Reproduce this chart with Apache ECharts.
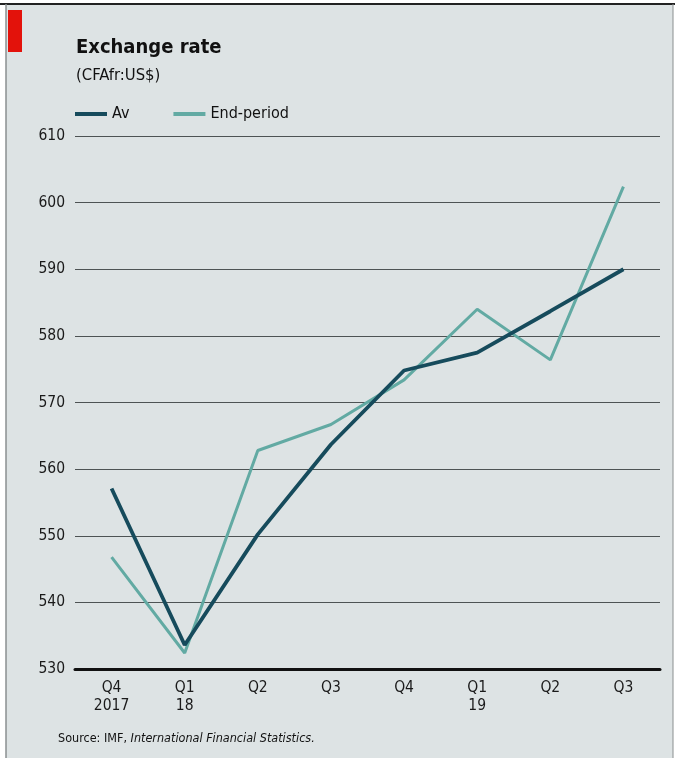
<!DOCTYPE html>
<html>
<head>
<meta charset="utf-8">
<script src="https://cdn.jsdelivr.net/npm/echarts@6/dist/echarts.min.js"></script>
<style>
  html, body { margin: 0; padding: 0; background: #ffffff; }
  #chart { width: 675px; height: 758px; }
</style>
</head>
<body>
<div id="chart"></div>
<script>
// Quarterly CFA franc per US dollar
const quarters = ['Q4\n2017', 'Q1\n18', 'Q2', 'Q3', 'Q4', 'Q1\n19', 'Q2', 'Q3'];
const averageRate = [557.1, 533.6, 550.2, 563.7, 574.8, 577.5, 583.7, 590.0];
const endPeriodRate = [546.8, 532.4, 562.8, 566.7, 573.4, 584.0, 576.4, 602.4];
const yTicks = { min: 530, max: 610, step: 10 };

const FONT = '"Liberation Sans Narrow", "DejaVu Sans Condensed", "Liberation Sans", sans-serif';
const AV_COLOR = '#164b5c';
const END_COLOR = '#62aaa3';

const chart = echarts.init(document.getElementById('chart'), null, { renderer: 'canvas' });

chart.setOption({
  backgroundColor: '#ffffff',
  animation: false,
  textStyle: { fontFamily: FONT },
  graphic: [
    // panel background with frame
    { type: 'rect', z: -10, shape: { x: 6, y: 4, width: 667, height: 760 },
      style: { fill: '#dde3e4', stroke: null } },
    { type: 'line', z: 5, shape: { x1: 0, y1: 4, x2: 675, y2: 4 },
      style: { stroke: '#222', lineWidth: 2 } },
    { type: 'line', z: 5, shape: { x1: 6, y1: 4, x2: 6, y2: 758 },
      style: { stroke: '#8a8f90', lineWidth: 1.5 } },
    { type: 'line', z: 5, shape: { x1: 673, y1: 4, x2: 673, y2: 758 },
      style: { stroke: '#8a8f90', lineWidth: 1 } },
    // red tab
    { type: 'rect', shape: { x: 8, y: 10, width: 14, height: 42 },
      style: { fill: '#e3120b' } },
    // source note
    { type: 'text', left: 58, top: 732,
      style: {
        text: '{n|Source: IMF, }{i|International Financial Statistics.}',
        rich: {
          n: { fontFamily: FONT, fontSize: 12.5, fill: '#111' },
          i: { fontFamily: FONT, fontSize: 12.5, fontStyle: 'italic', fill: '#111' }
        }
      } }
  ],
  title: {
    text: 'Exchange rate',
    subtext: '(CFAfr:US$)',
    left: 71,
    top: 33,
    itemGap: 9,
    textStyle: { fontFamily: FONT, fontSize: 20, fontWeight: 'bold', color: '#111' },
    subtextStyle: { fontFamily: FONT, fontSize: 16.5, color: '#111' }
  },
  legend: {
    left: 70,
    top: 101,
    itemWidth: 32,
    itemHeight: 4,
    itemGap: 44,
    icon: 'rect',
    data: ['Av', 'End-period'],
    textStyle: { fontFamily: FONT, fontSize: 16, color: '#111' }
  },
  grid: { left: 75, right: 15, top: 136, bottom: 89, containLabel: false },
  xAxis: {
    type: 'category',
    data: quarters,
    boundaryGap: true,
    axisLine: { lineStyle: { color: '#111', width: 3 } },
    axisTick: { show: false },
    axisLabel: { color: '#1a1a1a', fontSize: 15.5, lineHeight: 18, margin: 10, fontFamily: FONT }
  },
  yAxis: {
    type: 'value',
    min: yTicks.min,
    max: yTicks.max,
    interval: yTicks.step,
    axisLine: { show: false },
    axisTick: { show: false },
    axisLabel: { color: '#1a1a1a', fontSize: 15.5, margin: 10, fontFamily: FONT },
    splitLine: { lineStyle: { color: '#4d5354', width: 1.2 } }
  },
  series: [
    {
      name: 'End-period',
      type: 'line',
      data: endPeriodRate,
      symbol: 'none',
      z: 2,
      lineStyle: { color: END_COLOR, width: 3 },
      itemStyle: { color: END_COLOR }
    },
    {
      name: 'Av',
      type: 'line',
      data: averageRate,
      symbol: 'none',
      z: 3,
      lineStyle: { color: AV_COLOR, width: 3.8 },
      itemStyle: { color: AV_COLOR }
    }
  ]
});
</script>
</body>
</html>
